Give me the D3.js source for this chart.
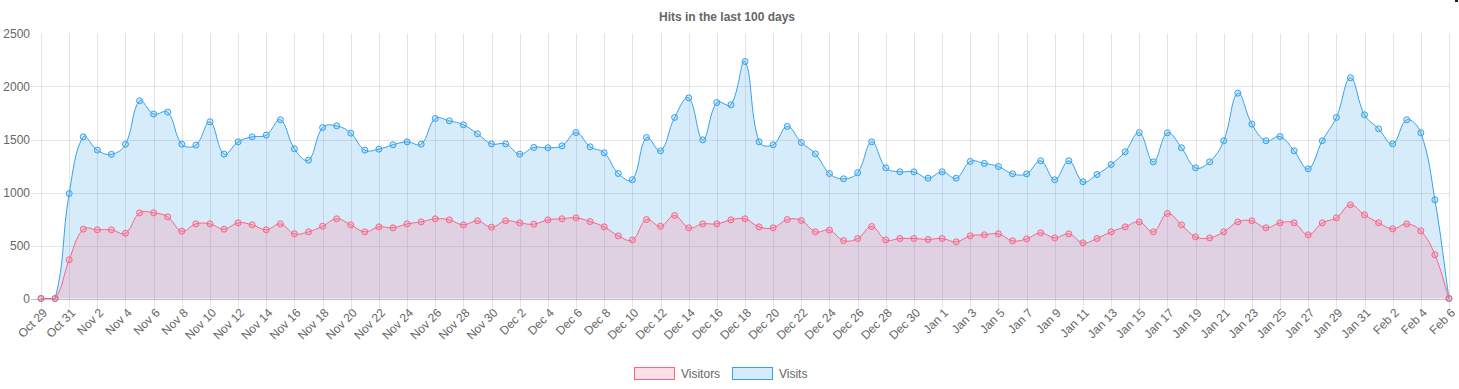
<!DOCTYPE html>
<html>
<head>
<meta charset="utf-8">
<script src="https://cdn.jsdelivr.net/npm/d3@7"></script>
<style>
  body { margin: 0; background: #fff; }
  svg { display: block; font-family: "Liberation Sans", Arial, sans-serif; }
  .tick-label { font-size: 12px; fill: #666; }
</style>
</head>
<body>
<svg id="chart" width="1459" height="389"></svg>
<script>
// first and last day of the range (inclusive)
const START_DAY = new Date(2018, 9, 29);
const END_DAY = new Date(2019, 1, 6);

const Y_TICKS = [0, 500, 1000, 1500, 2000, 2500];

const visitors = [
  0, 0, 365,
  654, 648, 648, 616, 808, 808, 770, 635, 704, 704, 654, 714, 695, 648, 704,
  610, 629, 682, 752, 695, 629, 676, 667, 704, 723, 752, 742, 695, 733, 673,
  733, 714, 701, 742, 752, 761, 726, 676, 591, 553, 745, 682, 783, 667, 704,
  704, 742, 752, 676, 667, 745, 736, 629, 645, 547, 566, 679, 553, 566, 566, 557,
  566, 535, 591, 601, 610, 544, 563, 620, 572, 610, 525, 566, 629, 676, 723,
  629, 802, 695, 582, 572, 629, 723, 733, 667, 714, 714, 601, 714, 761, 884, 789,
  714, 657, 704, 638, 412, 0,
];

const visits = [
  0, 0, 990,
  1525, 1400, 1360, 1455, 1865, 1740, 1758, 1456, 1447, 1667, 1362, 1478, 1525, 1541, 1686,
  1412, 1305, 1613, 1629, 1560, 1400, 1409, 1450, 1478, 1456, 1698, 1676, 1639, 1554, 1459,
  1459, 1362, 1425, 1422, 1440, 1566, 1431, 1374, 1179, 1120, 1519, 1393, 1708, 1893, 1497,
  1849, 1827, 2236, 1478, 1450, 1623, 1472, 1365, 1179, 1129, 1186, 1478, 1233, 1195, 1195, 1135,
  1195, 1135, 1293, 1274, 1245, 1176, 1176, 1299, 1120, 1299, 1101, 1170, 1264, 1384, 1565,
  1289, 1563, 1422, 1233, 1289, 1488, 1937, 1645, 1488, 1528, 1393, 1223, 1488, 1708, 2082, 1733,
  1601, 1459, 1686, 1563, 931, 0,
];

const SERIES = [
  { name: "Visitors", values: visitors, color: "rgb(255, 99, 132)", fill: "rgba(255, 99, 132, 0.2)" },
  { name: "Visits", values: visits, color: "rgb(54, 162, 235)", fill: "rgba(54, 162, 235, 0.2)" },
];

const PLOT = { left: 41, right: 1449, top: 33.5, bottom: 298.5 };

const days = d3.timeDay.range(START_DAY, d3.timeDay.offset(END_DAY, 1));
const fmt = d3.timeFormat("%b %-d");
const labels = days.map(fmt);

const svg = d3.select("#chart");

const x = d3.scalePoint().domain(labels).range([PLOT.left, PLOT.right]).padding(0);
const y = d3.scaleLinear().domain([0, 2500]).range([PLOT.bottom, PLOT.top]);

// spline like chart.js (tension 0.4, control points capped to the plot area)
function controlPoints(prev, cur, next, t) {
  const d01 = Math.hypot(cur[0] - prev[0], cur[1] - prev[1]);
  const d12 = Math.hypot(next[0] - cur[0], next[1] - cur[1]);
  let s01 = d01 / (d01 + d12);
  let s12 = d12 / (d01 + d12);
  if (isNaN(s01)) s01 = 0;
  if (isNaN(s12)) s12 = 0;
  const fa = t * s01, fb = t * s12;
  const cap = (v) => Math.max(PLOT.top, Math.min(PLOT.bottom, v));
  return {
    prev: [cur[0] - fa * (next[0] - prev[0]), cap(cur[1] - fa * (next[1] - prev[1]))],
    next: [cur[0] + fb * (next[0] - prev[0]), cap(cur[1] + fb * (next[1] - prev[1]))],
  };
}

function chartCurve(context) {
  return {
    areaStart() { this._line = 0; },
    areaEnd() { this._line = NaN; },
    lineStart() { this._pts = []; },
    point(px, py) { this._pts.push([+px, +py]); },
    lineEnd() {
      const pts = this._pts, n = pts.length;
      if (n) {
        if (this._line) context.lineTo(pts[0][0], pts[0][1]);
        else context.moveTo(pts[0][0], pts[0][1]);
        const cps = pts.map((p, i) => controlPoints(pts[i - 1] || p, p, pts[i + 1] || p, 0.4));
        for (let i = 1; i < n; i++) {
          context.bezierCurveTo(
            cps[i - 1].next[0], cps[i - 1].next[1],
            cps[i].prev[0], cps[i].prev[1],
            pts[i][0], pts[i][1]
          );
        }
      }
      if (this._line || (this._line !== 0 && n === 1)) context.closePath();
      this._line = 1 - this._line;
    },
  };
}

// title
svg.append("text")
  .attr("x", 727)
  .attr("y", 21)
  .attr("text-anchor", "middle")
  .attr("font-size", 12)
  .attr("font-weight", "bold")
  .attr("fill", "#666")
  .text("Hits in the last 100 days");

// grid
const grid = svg.append("g").attr("class", "grid");
const shownLabels = labels.filter((d, i) => i % 2 === 0);

grid.selectAll(".vgrid")
  .data(shownLabels)
  .join("line")
  .attr("class", "vgrid")
  .attr("x1", (d) => Math.round(x(d)) + 0.5)
  .attr("x2", (d) => Math.round(x(d)) + 0.5)
  .attr("y1", PLOT.top)
  .attr("y2", PLOT.bottom + 10)
  .attr("stroke", "rgba(0,0,0,0.1)");

grid.selectAll(".hgrid")
  .data(Y_TICKS.filter((d) => d > 0 && d < 2500))
  .join("line")
  .attr("class", "hgrid")
  .attr("x1", PLOT.left - 10)
  .attr("x2", PLOT.right + 0.5)
  .attr("y1", (d) => Math.round(y(d)) + 0.5)
  .attr("y2", (d) => Math.round(y(d)) + 0.5)
  .attr("stroke", "rgba(0,0,0,0.1)");

grid.append("line")
  .attr("x1", PLOT.left - 10)
  .attr("x2", PLOT.right + 0.5)
  .attr("y1", Math.round(y(0)) + 0.5)
  .attr("y2", Math.round(y(0)) + 0.5)
  .attr("stroke", "rgba(0,0,0,0.25)");

// y tick labels
svg.append("g")
  .selectAll("text")
  .data(Y_TICKS)
  .join("text")
  .attr("class", "tick-label")
  .attr("x", 30)
  .attr("y", (d) => y(d))
  .attr("dy", "0.35em")
  .attr("text-anchor", "end")
  .text((d) => d);

// x tick labels
svg.append("g")
  .selectAll("text")
  .data(shownLabels)
  .join("text")
  .attr("class", "tick-label")
  .attr("text-anchor", "end")
  .attr("transform", (d) => `translate(${x(d) + 4}, ${PLOT.bottom + 12}) rotate(-45)`)
  .attr("dy", "0.35em")
  .text((d) => d);

// datasets, drawn last-first like chart.js
const area = d3.area()
  .x((d, i) => x(labels[i]))
  .y0(y(0))
  .y1((d) => y(d))
  .curve(chartCurve);

const line = d3.line()
  .x((d, i) => x(labels[i]))
  .y((d) => y(d))
  .curve(chartCurve);

SERIES.slice().reverse().forEach((s) => {
  const g = svg.append("g").attr("class", "series");

  g.append("path")
    .attr("d", area(s.values))
    .attr("fill", s.fill);

  g.append("path")
    .attr("d", line(s.values))
    .attr("fill", "none")
    .attr("stroke", s.color)
    .attr("stroke-width", 1);

  g.selectAll("circle")
    .data(s.values)
    .join("circle")
    .attr("cx", (d, i) => x(labels[i]))
    .attr("cy", (d) => y(d))
    .attr("r", 3)
    .attr("fill", s.fill)
    .attr("stroke", s.color)
    .attr("stroke-width", 1);
});

// legend
const legendX = [634, 732];
const legend = svg.append("g")
  .selectAll("g")
  .data(SERIES)
  .join("g")
  .attr("transform", (d, i) => `translate(${legendX[i]}, 367)`);

legend.append("rect")
  .attr("x", 0.5)
  .attr("y", 0.5)
  .attr("width", 40)
  .attr("height", 12)
  .attr("fill", (d) => d.fill)
  .attr("stroke", (d) => d.color)
  .attr("stroke-width", 1);

legend.append("text")
  .attr("class", "tick-label")
  .attr("x", 47)
  .attr("y", 6.5)
  .attr("dy", "0.35em")
  .text((d) => d.name);

// small dark mark at the top-right edge of the capture
svg.append("rect")
  .attr("x", 1455)
  .attr("y", 0)
  .attr("width", 3)
  .attr("height", 2)
  .attr("fill", "#222");
</script>
</body>
</html>
